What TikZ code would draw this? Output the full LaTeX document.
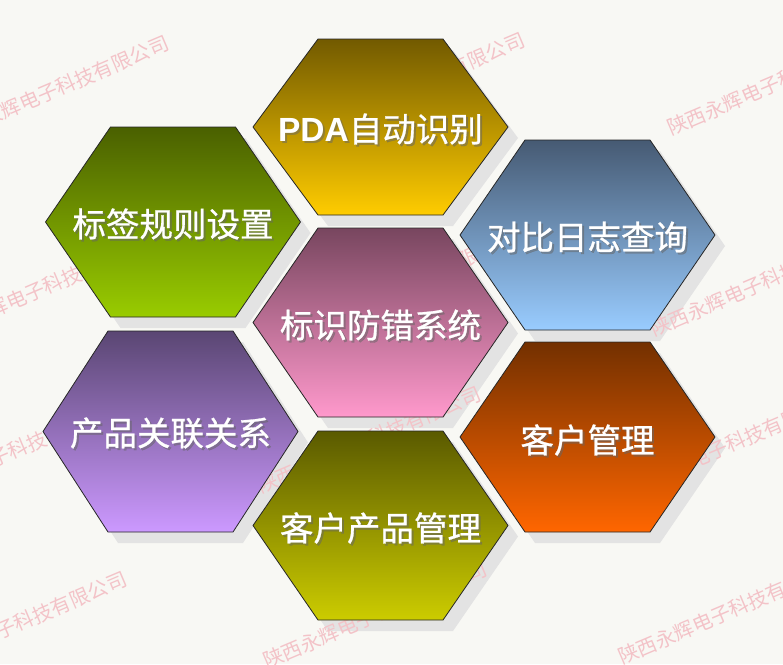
\documentclass[tikz,border=0pt]{standalone}
\usepackage{fontspec}
\newfontfamily\cjk{Noto Sans CJK SC}[FakeBold=0.8]
\newfontfamily\cjkw{Noto Sans CJK SC}
\newfontfamily\lat{Liberation Sans}
\definecolor{bgc}{HTML}{F8F8F4}
\definecolor{shc}{HTML}{E3E3E3}
\definecolor{wmc}{HTML}{F3C3C8}
\definecolor{aT}{HTML}{725A00}\definecolor{aB}{HTML}{FFCC00}
\definecolor{bT}{HTML}{4A6000}\definecolor{bB}{HTML}{99CC00}
\definecolor{cT}{HTML}{465A73}\definecolor{cB}{HTML}{99CCFF}
\definecolor{dT}{HTML}{78465F}\definecolor{dB}{HTML}{FF99CC}
\definecolor{eT}{HTML}{5A4673}\definecolor{eB}{HTML}{CC99FF}
\definecolor{fT}{HTML}{733000}\definecolor{fB}{HTML}{FF6600}
\definecolor{gT}{HTML}{5A5A00}\definecolor{gB}{HTML}{CCCC00}
\newcommand\hexat[3]{(#1-62.5,#2-#3) -- (#1+62.5,#2-#3) -- (#1+127.5,#2) -- (#1+62.5,#2+#3) -- (#1-62.5,#2+#3) -- (#1-127.5,#2) -- cycle}
\tikzset{
  hexshadow/.style={fill=shc},
  hexbody/.style={draw=black!85, line width=0.8pt},
  wmark/.style={text=wmc, font=\cjkw\fontsize{20}{22}\selectfont, rotate=23, inner sep=0},
  hlabel/.style={text=white, font=\cjk\fontsize{33.5}{40}\selectfont, inner sep=0},
  hlabelsh/.style={text=black!60, opacity=0.5, font=\cjk\fontsize{33.5}{40}\selectfont, inner sep=0}
}
\begin{document}
\begin{tikzpicture}[x=1pt,y=-1pt]
\useasboundingbox (0,0) rectangle (783,664);
\clip (0,0) rectangle (783,664);
\fill[bgc] (0,0) rectangle (783,664);
% shadows
\fill[hexshadow] \hexat{390.5}{138}{88};
\fill[hexshadow] \hexat{183}{233}{95};
\fill[hexshadow] \hexat{597.5}{246}{95};
\fill[hexshadow] \hexat{390.5}{333.5}{94.5};
\fill[hexshadow] \hexat{180.5}{442.5}{100.5};
\fill[hexshadow] \hexat{597.5}{448}{95};
\fill[hexshadow] \hexat{390.5}{536.5}{94.5};
% watermarks
\node[wmark] (w1) at (57,89) {陕西永辉电子科技有限公司};
\node[wmark] (w2) at (413,86) {陕西永辉电子科技有限公司};
\node[wmark] (w3) at (779,82) {陕西永辉电子科技有限公司};
\node[wmark] (w4) at (44,288) {陕西永辉电子科技有限公司};
\node[wmark] (w5) at (404,285) {陕西永辉电子科技有限公司};
\node[wmark] (w6) at (762,283) {陕西永辉电子科技有限公司};
\node[wmark] (w7) at (9,453) {陕西永辉电子科技有限公司};
\node[wmark] (w8) at (369,440) {陕西永辉电子科技有限公司};
\node[wmark] (w9) at (727,446) {陕西永辉电子科技有限公司};
\node[wmark] (w10) at (15,625) {陕西永辉电子科技有限公司};
\node[wmark] (w11) at (375,615) {陕西永辉电子科技有限公司};
\node[wmark] (w12) at (730,611) {陕西永辉电子科技有限公司};
% hexagons
\shadedraw[hexbody, top color=aT, bottom color=aB] \hexat{380.5}{127}{88};
\shadedraw[hexbody, top color=bT, bottom color=bB] \hexat{173}{222}{95};
\shadedraw[hexbody, top color=cT, bottom color=cB] \hexat{587.5}{235}{95};
\shadedraw[hexbody, top color=dT, bottom color=dB] \hexat{380.5}{322.5}{94.5};
\shadedraw[hexbody, top color=eT, bottom color=eB] \hexat{170.5}{431.5}{100.5};
\shadedraw[hexbody, top color=fT, bottom color=fB] \hexat{587.5}{437}{95};
\shadedraw[hexbody, top color=gT, bottom color=gB] \hexat{380.5}{525.5}{94.5};
% labels
\node[hlabelsh] (l1s) at (382.5,131) {{\lat\bfseries PDA}自动识别};
\node[hlabel] (l1) at (380.5,129) {{\lat\bfseries PDA}自动识别};
\node[hlabelsh] (l2s) at (175,226) {标签规则设置};
\node[hlabel] (l2) at (173,224) {标签规则设置};
\node[hlabelsh] (l3s) at (589.5,239) {对比日志查询};
\node[hlabel] (l3) at (587.5,237) {对比日志查询};
\node[hlabelsh] (l4s) at (382.5,327) {标识防错系统};
\node[hlabel] (l4) at (380.5,325) {标识防错系统};
\node[hlabelsh] (l5s) at (172.5,435) {产品关联关系};
\node[hlabel] (l5) at (170.5,433) {产品关联关系};
\node[hlabelsh] (l6s) at (589.5,442) {客户管理};
\node[hlabel] (l6) at (587.5,440) {客户管理};
\node[hlabelsh] (l7s) at (382.5,530) {客户产品管理};
\node[hlabel] (l7) at (380.5,528) {客户产品管理};
\end{tikzpicture}
\end{document}
